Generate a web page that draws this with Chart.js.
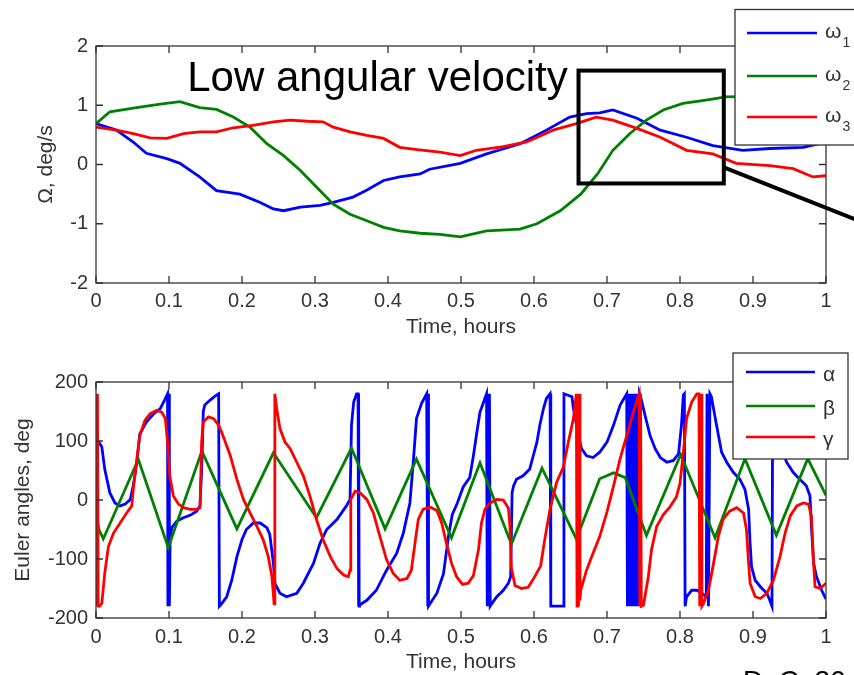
<!DOCTYPE html>
<html><head><meta charset="utf-8">
<script src="https://cdn.jsdelivr.net/npm/chart.js@4"></script>
<style>
html,body{margin:0;padding:0;background:#fff;overflow:hidden}
#wrap{position:relative;width:854px;height:675px;background:#fff}
canvas{position:absolute;left:0}
</style></head><body>
<div id="wrap">
<canvas id="c1" width="854" height="340" style="top:0"></canvas>
<canvas id="c2" width="854" height="335" style="top:340px"></canvas>
</div>
<script>
// ---- tick values / labels ----
const xTicks = [0,0.1,0.2,0.3,0.4,0.5,0.6,0.7,0.8,0.9,1];
const xTickLabels = ['0','0.1','0.2','0.3','0.4','0.5','0.6','0.7','0.8','0.9','1'];
const omegaTicks = [-2,-1,0,1,2];
const omegaTickLabels = ['-2','-1','0','1','2'];
const eulerTicks = [-200,-100,0,100,200];
const eulerTickLabels = ['-200','-100','0','100','200'];

// ---- legend labels ----
const omegaNames = ['ω','ω','ω'];
const omegaSubs = ['1','2','3'];
const eulerNames = ['α','β','γ'];

// ---- angular velocity (deg/s) ----
const tW1 = [0,0.028,0.051,0.069,0.097,0.115,0.142,0.165,0.197,0.225,0.243,0.257,0.28,0.307,0.325,0.352,0.37,0.394,0.416,0.444,0.457,0.499,0.535,0.581,0.617,0.649,0.672,0.69,0.708,0.741,0.773,0.809,0.845,0.886,0.923,0.969,1.0];
const w1 = [0.69,0.58,0.38,0.19,0.1,0.02,-0.21,-0.44,-0.5,-0.64,-0.75,-0.78,-0.72,-0.69,-0.64,-0.55,-0.44,-0.27,-0.21,-0.16,-0.08,0.02,0.18,0.35,0.58,0.8,0.86,0.87,0.92,0.78,0.58,0.46,0.32,0.24,0.27,0.29,0.38];
const tW2 = [0,0.019,0.051,0.088,0.115,0.142,0.165,0.188,0.211,0.234,0.257,0.28,0.302,0.325,0.348,0.371,0.394,0.416,0.444,0.471,0.499,0.535,0.581,0.604,0.636,0.664,0.687,0.708,0.731,0.754,0.777,0.804,0.831,0.863,0.9,0.95,1.0];
const w2 = [0.69,0.89,0.95,1.02,1.06,0.96,0.93,0.8,0.63,0.35,0.15,-0.1,-0.38,-0.67,-0.84,-0.95,-1.06,-1.12,-1.16,-1.18,-1.22,-1.12,-1.09,-1.0,-0.78,-0.5,-0.16,0.24,0.52,0.75,0.92,1.03,1.08,1.14,1.15,1.13,1.1];
const tW3 = [0,0.028,0.051,0.074,0.097,0.12,0.142,0.165,0.188,0.215,0.243,0.266,0.289,0.311,0.325,0.348,0.371,0.394,0.416,0.44,0.471,0.499,0.521,0.558,0.59,0.626,0.658,0.685,0.708,0.741,0.773,0.809,0.845,0.877,0.923,0.955,0.982,1.0];
const w3 = [0.63,0.58,0.52,0.45,0.44,0.52,0.55,0.55,0.62,0.66,0.72,0.75,0.73,0.72,0.63,0.55,0.49,0.44,0.29,0.25,0.21,0.15,0.24,0.3,0.38,0.58,0.69,0.8,0.75,0.61,0.46,0.24,0.18,0.02,-0.02,-0.07,-0.21,-0.19];

// ---- Euler angles (deg) ----
const tA = [0,0.004,0.008,0.012,0.019,0.026,0.033,0.040,0.047,0.051,
0.056,0.060,0.069,0.079,0.088,0.095,0.098,0.0985,0.099,0.0995,
0.100,0.1005,0.1015,0.1037,0.1105,0.1196,0.1288,0.138,0.1425,0.145,
0.147,0.149,0.156,0.163,0.168,0.169,0.172,0.179,0.186,0.193,
0.200,0.206,0.2155,0.225,0.234,0.238,0.243,0.245,0.252,0.261,
0.275,0.284,0.298,0.307,0.316,0.330,0.343,0.348,0.350,0.353,
0.357,0.359,0.3595,0.360,0.3605,0.361,0.371,0.384,0.398,0.412,
0.421,0.430,0.435,0.439,0.446,0.453,0.4545,0.455,0.4555,0.4575,
0.467,0.476,0.483,0.488,0.495,0.503,0.512,0.517,0.521,0.526,
0.531,0.535,0.536,0.537,0.538,0.539,0.540,0.542,0.549,0.558,
0.565,0.568,0.570,0.572,0.576,0.585,0.594,0.599,0.604,0.608,
0.613,0.617,0.622,0.623,0.640,0.641,0.652,0.654,0.661,0.665,
0.672,0.681,0.690,0.700,0.709,0.718,0.727,0.728,0.7295,0.731,
0.7325,0.734,0.7355,0.737,0.7385,0.740,0.7415,0.743,0.7445,0.747,
0.752,0.759,0.766,0.773,0.782,0.791,0.798,0.802,0.8046,0.806,
0.807,0.809,0.816,0.823,0.830,0.836,0.837,0.839,0.841,0.843,
0.850,0.857,0.864,0.873,0.882,0.889,0.894,0.896,0.898,0.903,
0.910,0.919,0.923,0.926,0.927,0.933,0.940,0.946,0.955,0.964,
0.973,0.978,0.980,0.983,0.987,0.994,1.0];
const alpha = [100,98,90,52,12,-5,-10,-7,1,24,
64,112,132,146,155,172,180,-180,180,-180,
180,-180,-70,-47,-36,-30,-26,-19,-10,60,
150,161,169,176,180,-180,-176,-164,-136,-96,
-67,-50,-39,-39,-47,-58,-107,-141,-158,-164,
-158,-141,-107,-73,-50,-33,-10,1,127,166,
180,180,-180,180,-180,-178,-170,-153,-119,-90,
-56,-5,70,138,164,180,-180,180,-180,-176,
-158,-125,-60,-25,-5,22,38,75,109,149,
166,180,-180,180,-180,180,-180,-176,-164,-153,
-141,-130,12,24,35,41,52,75,98,127,
155,172,180,-180,-180,180,175,155,109,87,
75,72,81,98,127,161,180,-180,180,-180,
180,-180,180,-180,180,-180,180,-180,180,170,
144,109,87,72,64,67,78,127,178,180,
-180,-164,-153,-153,-158,-164,180,-180,180,175,
127,81,64,47,35,18,-16,-73,-113,-136,
-147,-158,-170,-180,180,140,85,64,47,35,
24,7,-44,-107,-130,-153,-168];
const tB = [0,0.004,0.010,0.058,0.099,0.145,0.193,0.243,0.302,0.350,0.396,0.439,0.487,0.526,0.569,0.611,0.658,0.69,0.709,0.725,0.754,0.801,0.848,0.889,0.932,0.975,1.0];
const beta = [-24,-50,-66,69,-81,83,-49,80,-30,88,-49,69,-64,63,-75,54,-66,36,46,38,-60,77,-64,70,-60,70,8];
const tG = [0,0.001,0.002,0.003,0.005,0.008,0.012,0.017,0.024,0.033,
0.042,0.049,0.051,0.056,0.060,0.067,0.074,0.083,0.090,0.095,
0.098,0.101,0.106,0.113,0.120,0.129,0.138,0.1425,0.1447,0.147,
0.154,0.161,0.168,0.174,0.184,0.193,0.202,0.211,0.220,0.229,
0.236,0.241,0.244,0.245,0.2475,0.252,0.259,0.266,0.275,0.284,
0.293,0.302,0.311,0.321,0.330,0.339,0.3457,0.348,0.349,0.355,
0.362,0.371,0.380,0.389,0.398,0.407,0.416,0.426,0.432,0.437,
0.4415,0.448,0.4575,0.467,0.4735,0.480,0.487,0.494,0.502,0.510,
0.517,0.524,0.528,0.533,0.540,0.549,0.558,0.565,0.567,0.569,
0.574,0.583,0.592,0.600,0.609,0.615,0.622,0.631,0.640,0.647,
0.654,0.658,0.659,0.660,0.661,0.662,0.663,0.664,0.672,0.681,
0.690,0.700,0.709,0.718,0.727,0.736,0.744,0.745,0.746,0.747,
0.750,0.7566,0.761,0.768,0.777,0.786,0.795,0.800,0.8046,0.809,
0.816,0.823,0.826,0.827,0.829,0.830,0.832,0.839,0.846,0.8525,
0.859,0.868,0.8776,0.887,0.891,0.894,0.896,0.903,0.910,0.919,
0.928,0.937,0.944,0.951,0.960,0.969,0.976,0.980,0.983,0.985,
0.992,1.0];
const gamma = [180,-180,180,-180,-180,-175,-124,-79,-56,-39,
-22,-10,18,70,109,135,146,152,149,138,
98,41,7,-7,-13,-16,-16,-13,98,132,
141,138,127,109,75,35,1,-22,-44,-67,
-96,-130,-176,180,155,121,98,87,64,41,
7,-33,-67,-96,-116,-127,-130,-119,1,15,
12,1,-22,-62,-101,-124,-136,-133,-119,-73,
-33,-16,-12,-18,-39,-73,-107,-130,-143,-141,
-128,-84,-39,-15,-5,1,0,-14,-44,-115,
-145,-150,-148,-132,-112,-65,-15,30,55,98,
138,180,-180,180,-180,180,-170,-153,-119,-90,
-62,-20,24,70,109,149,180,-180,180,-180,
-178,-130,-84,-45,-25,-12,5,28,81,138,
166,180,180,-180,180,-180,-176,-153,-107,-62,
-33,-19,-13,-22,-50,-107,-141,-164,-167,-158,
-136,-96,-56,-27,-10,-5,-7,-27,-107,-147,
-150,-141];

const BLUE='#0000ff', GREEN='#008000', RED='#ff0000';
const FONT = "'Liberation Sans', Arial, Helvetica, sans-serif";
const AXC = '#333333';

function pts(ts, vs){ return ts.map((t,i)=>({x:t,y:vs[i]})); }
function ds(label, ts, vs, color, order){
  return {label, data: pts(ts,vs), borderColor: color, backgroundColor: color,
          borderWidth: 2.8, pointRadius: 0, tension: 0, fill: false, order};
}

function drawFrame(chart){
  const {ctx, chartArea:a} = chart;
  const xs = chart.scales.x, ys = chart.scales.y;
  ctx.save();
  ctx.strokeStyle = AXC; ctx.lineWidth = 1.3;
  ctx.beginPath();
  xs.ticks.forEach(t=>{ const p = xs.getPixelForValue(t.value);
    ctx.moveTo(p,a.bottom); ctx.lineTo(p,a.bottom-7);
    ctx.moveTo(p,a.top); ctx.lineTo(p,a.top+7); });
  ys.ticks.forEach(t=>{ const p = ys.getPixelForValue(t.value);
    ctx.moveTo(a.left,p); ctx.lineTo(a.left+7,p);
    ctx.moveTo(a.right,p); ctx.lineTo(a.right-7,p); });
  ctx.stroke();
  ctx.strokeRect(a.left, a.top, a.right-a.left, a.bottom-a.top);
  ctx.restore();
}

function drawLegend(ctx, box, rows, names, subs, colors, baseOff){
  ctx.save();
  ctx.fillStyle = '#fff';
  ctx.fillRect(box.x, box.y, box.w, box.h);
  ctx.strokeStyle = AXC; ctx.lineWidth = 1.3;
  ctx.strokeRect(box.x, box.y, box.w, box.h);
  rows.forEach((ry,i)=>{
    ctx.strokeStyle = colors[i]; ctx.lineWidth = 2.5;
    ctx.beginPath(); ctx.moveTo(box.lx0, ry); ctx.lineTo(box.lx1, ry); ctx.stroke();
    ctx.fillStyle = AXC; ctx.textBaseline = 'alphabetic'; ctx.textAlign = 'left';
    ctx.font = '21px ' + FONT;
    ctx.fillText(names[i], box.tx, ry + baseOff);
    if (subs) {
      const w = ctx.measureText(names[i]).width;
      ctx.font = '14px ' + FONT;
      ctx.fillText(subs[i], box.tx + w + 1, ry + baseOff + 9);
    }
  });
  ctx.restore();
}

const topPlugin = {
  id: 'topDecor',
  afterDraw(chart){
    const ctx = chart.ctx, xs = chart.scales.x, ys = chart.scales.y;
    drawFrame(chart);
    ctx.save();
    ctx.fillStyle = '#000'; ctx.font = '42px ' + FONT;
    ctx.textAlign = 'left'; ctx.textBaseline = 'alphabetic';
    ctx.fillText('Low angular velocity', xs.getPixelForValue(0.125), ys.getPixelForValue(1.236));
    const rx0 = xs.getPixelForValue(0.661), rx1 = xs.getPixelForValue(0.860);
    const ry0 = ys.getPixelForValue(1.585), ry1 = ys.getPixelForValue(-0.32);
    ctx.strokeStyle = '#000'; ctx.lineWidth = 4;
    ctx.strokeRect(rx0, ry0, rx1-rx0, ry1-ry0);
    ctx.beginPath();
    ctx.moveTo(rx1, ys.getPixelForValue(-0.05));
    ctx.lineTo(xs.getPixelForValue(1.045), ys.getPixelForValue(-0.95));
    ctx.stroke();
    ctx.restore();
    drawLegend(ctx, {x:735, y:9.5, w:130, h:135.5, lx0:747, lx1:817, tx:825},
      [33,76,117], omegaNames, omegaSubs, [BLUE,GREEN,RED], 5);
  }
};

const botPlugin = {
  id: 'botDecor',
  afterDraw(chart){
    const ctx = chart.ctx;
    drawFrame(chart);
    drawLegend(ctx, {x:733, y:13, w:115, h:106, lx0:746, lx1:815, tx:823},
      [32,66,97], eulerNames, null, [BLUE,GREEN,RED], 9);
    ctx.save();
    ctx.fillStyle = '#000'; ctx.font = '28px ' + FONT;
    ctx.textAlign = 'left'; ctx.textBaseline = 'alphabetic';
    ctx.fillText('D. C. 20', 743, 350);
    ctx.restore();
  }
};

function scalesFor(yMin, yMax, yTicks, yLabels, yTitle, yTitlePad, xTickPad){
  return {
    x: {
      type: 'linear', min: 0, max: 1,
      grid: {display: false, drawTicks: false}, border: {display: false},
      afterBuildTicks: s => { s.ticks = xTicks.map(v => ({value: v})); },
      ticks: {padding: xTickPad, color: AXC, font: {family: FONT, size: 20},
              maxRotation: 0, autoSkip: false, callback: (v, i) => xTickLabels[i]},
      title: {display: true, text: 'Time, hours', color: AXC,
              font: {family: FONT, size: 21}, padding: {top: 0, bottom: 0}},
      afterFit: s => { s.height = 57; }
    },
    y: {
      type: 'linear', min: yMin, max: yMax,
      grid: {display: false, drawTicks: false}, border: {display: false},
      afterBuildTicks: s => { s.ticks = yTicks.map(v => ({value: v})); },
      ticks: {padding: 8, color: AXC, font: {family: FONT, size: 20},
              autoSkip: false, callback: (v, i) => yLabels[i]},
      title: {display: true, text: yTitle, color: AXC,
              font: {family: FONT, size: 21}, padding: {top: yTitlePad, bottom: 0}},
      afterFit: s => { s.width = 96; }
    }
  };
}

const common = {
  responsive: false, animation: false, devicePixelRatio: 1,
  plugins: {legend: {display: false}, tooltip: {enabled: false}},
  events: []
};

new Chart(document.getElementById('c1'), {
  type: 'line',
  data: {datasets: [
    ds('ω₁', tW1, w1, BLUE, 3),
    ds('ω₂', tW2, w2, GREEN, 2),
    ds('ω₃', tW3, w3, RED, 1)
  ]},
  options: Object.assign({}, common, {
    layout: {padding: {left: 0, right: 28, top: 46, bottom: 0}},
    scales: scalesFor(-2, 2, omegaTicks, omegaTickLabels, 'Ω, deg/s', 34, 6)
  }),
  plugins: [topPlugin]
});

new Chart(document.getElementById('c2'), {
  type: 'line',
  data: {datasets: [
    ds('α', tA, alpha, BLUE, 3),
    ds('β', tB, beta, GREEN, 2),
    ds('γ', tG, gamma, RED, 1)
  ]},
  options: Object.assign({}, common, {
    layout: {padding: {left: 0, right: 28, top: 42, bottom: 0}},
    scales: scalesFor(-200, 200, eulerTicks, eulerTickLabels, 'Euler angles, deg', 11, 7)
  }),
  plugins: [botPlugin]
});
</script>
</body></html>
